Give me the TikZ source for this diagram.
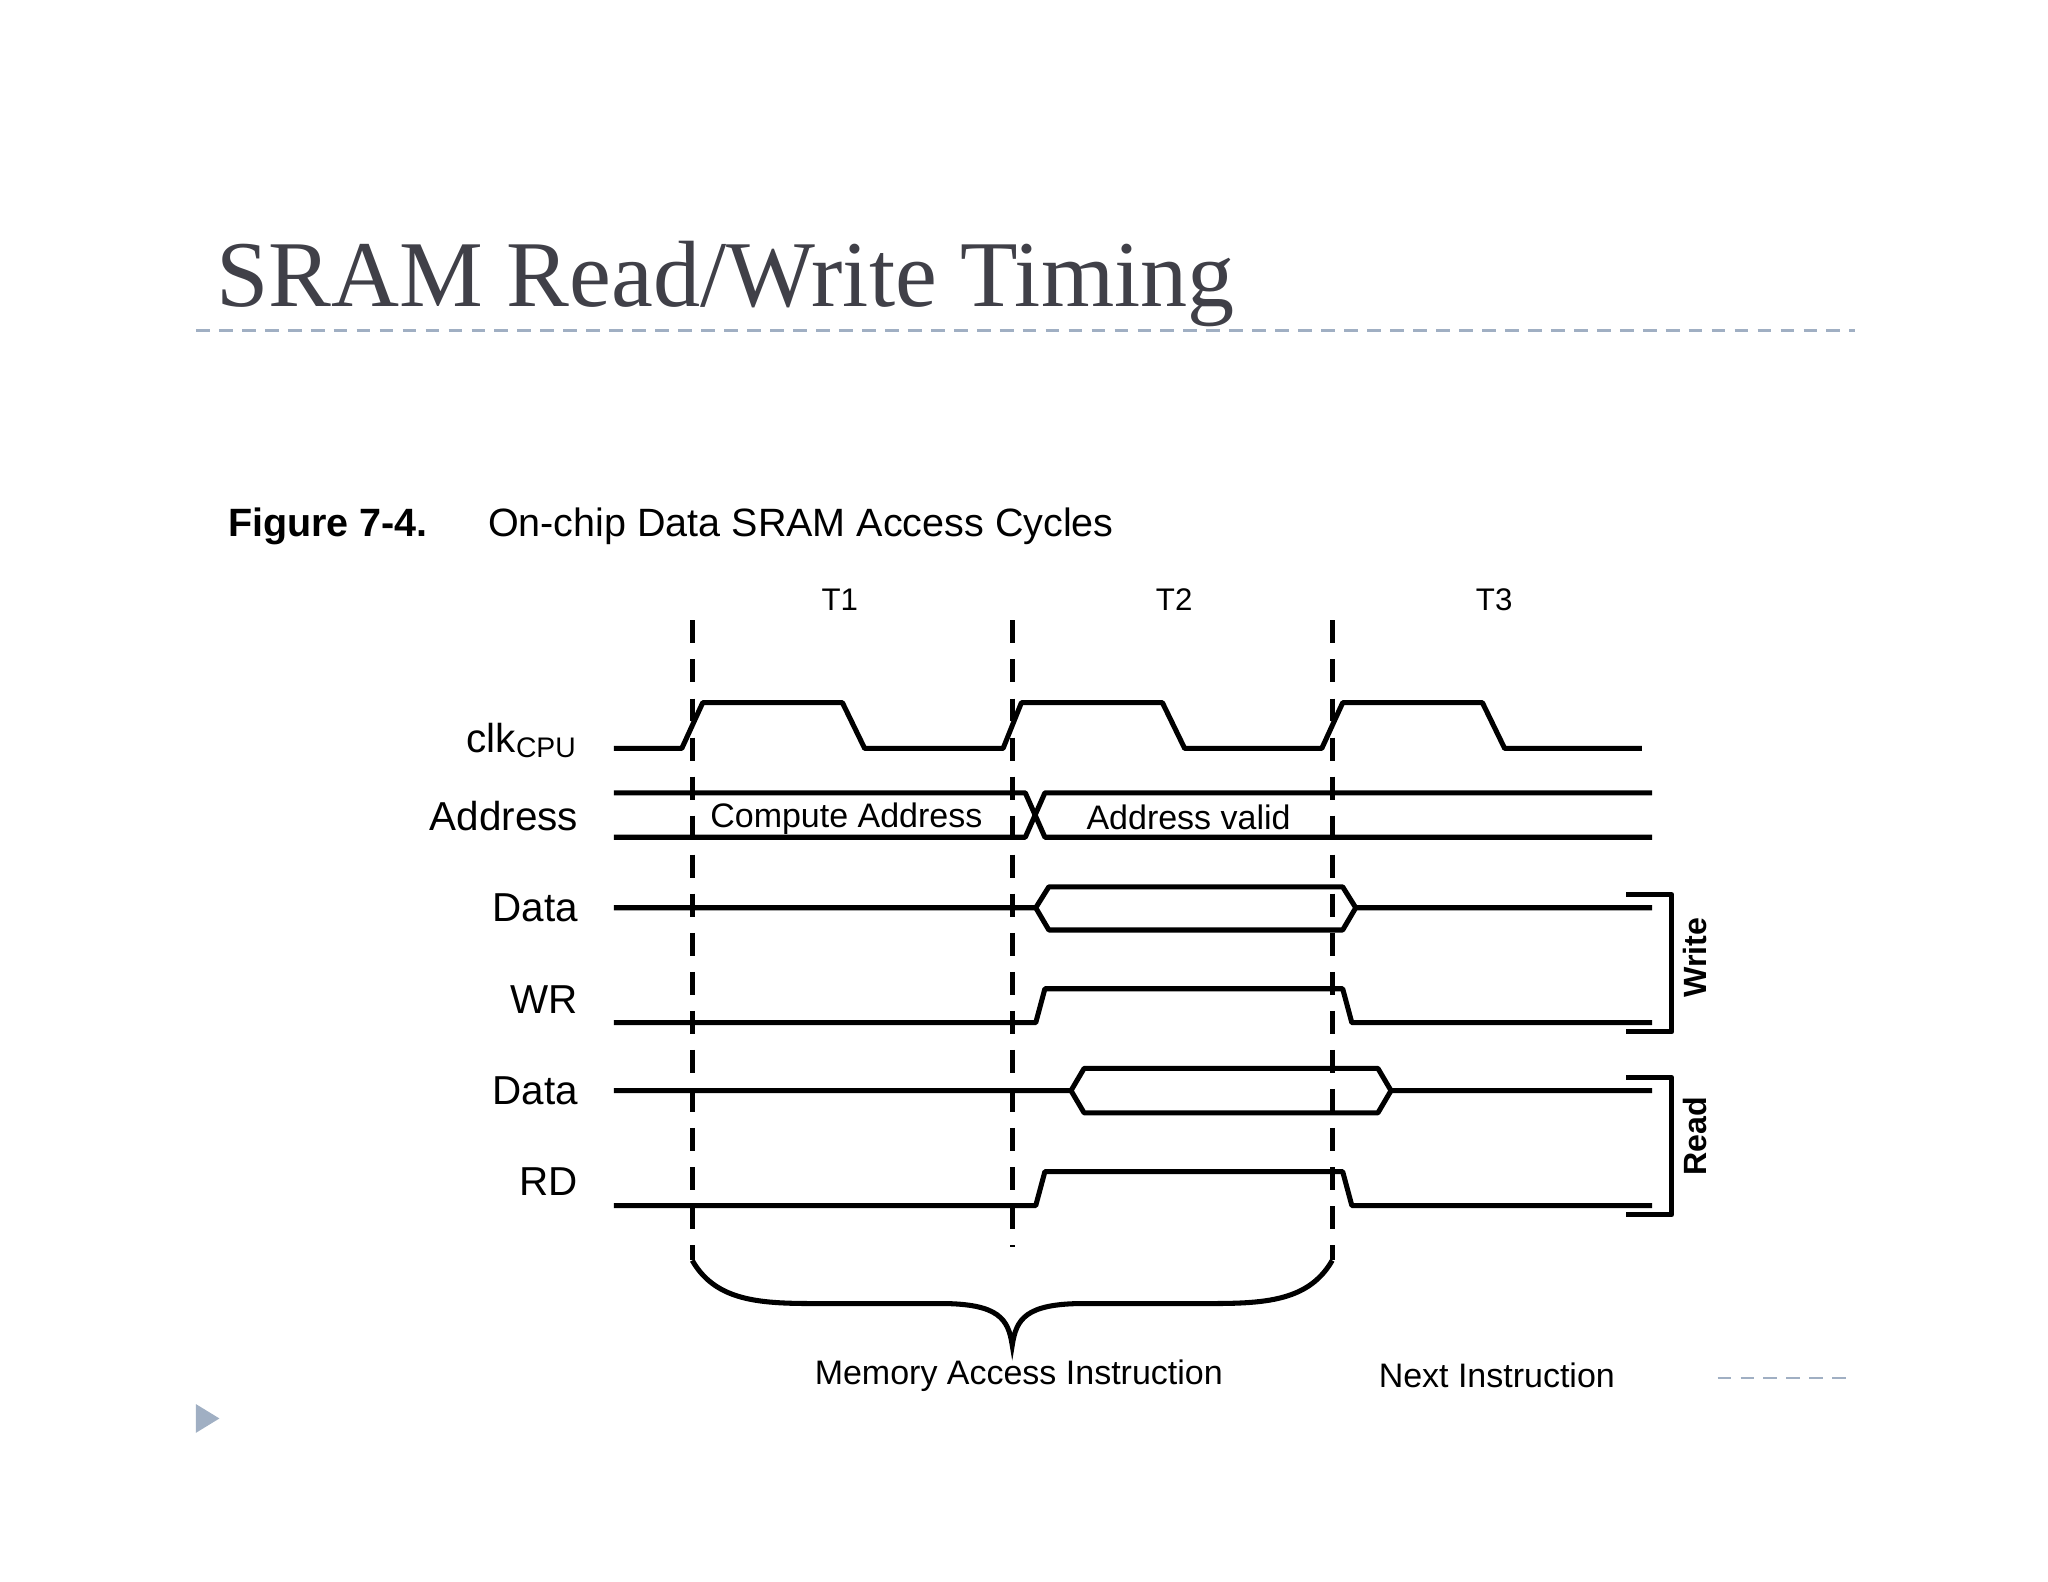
\documentclass[tikz,border=0pt]{standalone}
\usepackage{fontspec}
\setmainfont{Liberation Serif}
\setsansfont{Liberation Sans}
\begin{document}
\begin{tikzpicture}[x=0.01cm, y=-0.01cm,
  sig/.style={line width=1.1pt, line join=round},
  grid/.style={line width=1.1pt, dash pattern=on 5pt off 3.5pt},
  lbl/.style={font=\sffamily\fontsize{8.8}{10}\selectfont, anchor=east},
  small/.style={font=\sffamily\fontsize{6.8}{8}\selectfont},
  inlbl/.style={font=\sffamily\fontsize{7.4}{9}\selectfont}]
  \useasboundingbox (0,0) rectangle (1568,1211);
  \definecolor{slate}{RGB}{64,64,72}
  \definecolor{rule}{RGB}{160,175,195}

  % Title and rules
  \node[anchor=base west, inner sep=0, text=slate, font=\fontsize{20.5}{24}\selectfont] (title) at (165,235) {SRAM Read/Write Timing};
  \draw[rule, line width=0.5pt, dash pattern=on 3pt off 2pt] (150,253) -- (1420,253);
  \draw[rule, line width=0.5pt, dash pattern=on 3pt off 2pt] (1315,1055) -- (1420,1055);
  \fill[rule] (150,1075) -- (168,1086) -- (150,1097) -- cycle;

  % Caption
  \node[anchor=base west, inner sep=0, font=\sffamily\bfseries\fontsize{8.6}{10}\selectfont] (fig) at (174,411) {Figure 7-4.};
  \node[anchor=base west, inner sep=0, font=\sffamily\fontsize{8.6}{10}\selectfont] (cap) at (373,411) {On-chip Data SRAM Access Cycles};

  % Period labels
  \node[small] (t1) at (643,459) {T1};
  \node[small] (t2) at (899,459) {T2};
  \node[small] (t3) at (1144,459) {T3};

  % Dashed cycle borders
  \draw[grid] (530,475) -- (530,965);
  \draw[grid] (775,475) -- (775,955);
  \draw[grid] (1020,475) -- (1020,965);

  % Signal names
  \node[lbl] (clk) at (455,567) {clk\textsubscript{CPU}};
  \node[lbl] (addr) at (455,625) {Address};
  \node[lbl] (dataw) at (455,695) {Data};
  \node[lbl] (wr) at (455,765) {WR};
  \node[lbl] (datar) at (455,835) {Data};
  \node[lbl] (rd) at (455,905) {RD};

  % clk
  \draw[sig] (470,573) -- (522,573) -- (538,538) -- (645,538) -- (662,573) -- (768,573)
     -- (782,538) -- (890,538) -- (907,573) -- (1012,573) -- (1028,538) -- (1135,538)
     -- (1152,573) -- (1257,573);
  % Address
  \draw[sig] (470,607) -- (785,607) -- (800,641) -- (1265,641);
  \draw[sig] (470,641) -- (785,641) -- (800,607) -- (1265,607);
  \node[inlbl] (cadr) at (648,627) {Compute Address};
  \node[inlbl] (vadr) at (910,626) {Address valid};
  % Data (write)
  \draw[sig] (470,695) -- (793,695) -- (803,679) -- (1028,679) -- (1038,695) -- (1265,695);
  \draw[sig] (793,695) -- (803,712) -- (1028,712) -- (1038,695);
  % WR
  \draw[sig] (470,783) -- (793,783) -- (800,757) -- (1028,757) -- (1035,783) -- (1265,783);
  % Data (read)
  \draw[sig] (470,835) -- (820,835) -- (830,818) -- (1055,818) -- (1065,835) -- (1265,835);
  \draw[sig] (820,835) -- (830,852) -- (1055,852) -- (1065,835);
  % RD
  \draw[sig] (470,923) -- (793,923) -- (800,897) -- (1028,897) -- (1035,923) -- (1265,923);

  % Write / Read brackets
  \draw[sig] (1245,685) -- (1280,685) -- (1280,790) -- (1245,790);
  \node[rotate=90, font=\sffamily\bfseries\fontsize{7}{9}\selectfont] (wlab) at (1298,733) {Write};
  \draw[sig] (1245,825) -- (1280,825) -- (1280,930) -- (1245,930);
  \node[rotate=90, font=\sffamily\bfseries\fontsize{7}{9}\selectfont] (rlab) at (1298,870) {Read};

  % Brace
  \draw[line width=1.1pt] (530,965) .. controls (550,1000) and (590,998) .. (640,998)
     -- (720,998) .. controls (765,998) and (772,1010) .. (775,1030)
     .. controls (778,1010) and (785,998) .. (830,998) -- (910,998)
     .. controls (960,998) and (1000,1000) .. (1020,965);
  \node[inlbl] (mem) at (780,1053) {Memory Access Instruction};
  \node[inlbl] (next) at (1146,1053) {Next Instruction};
\end{tikzpicture}
\end{document}
